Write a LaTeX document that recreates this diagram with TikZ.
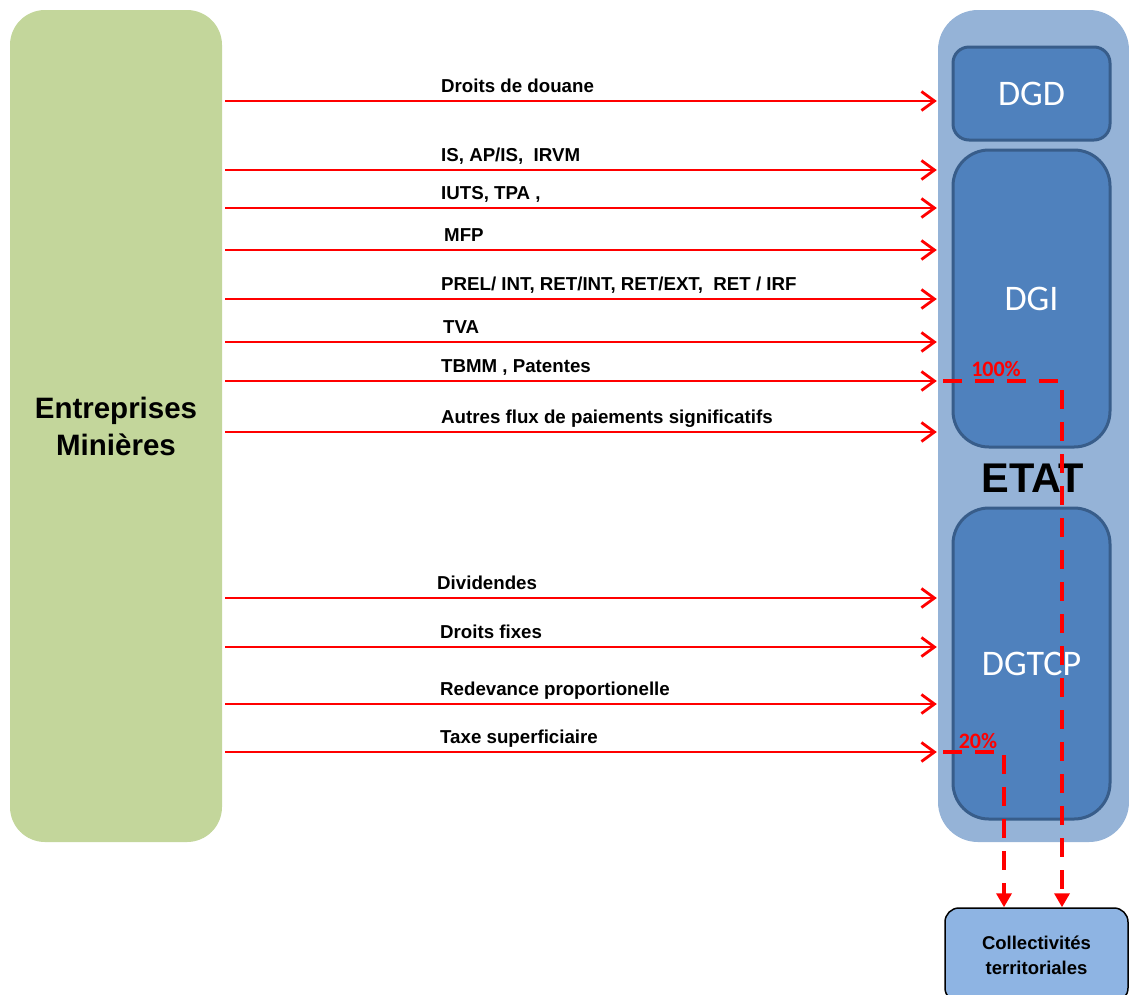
\documentclass[tikz,border=0pt]{standalone}
\usepackage{fontspec}
\setmainfont{Liberation Sans}
\newfontfamily\calib{Carlito}
\usetikzlibrary{arrows.meta}
\definecolor{entgreen}{HTML}{C3D69B}
\definecolor{etatblue}{HTML}{95B3D7}
\definecolor{dirblue}{HTML}{4F81BD}
\definecolor{dirborder}{HTML}{385D8A}
\definecolor{colblue}{HTML}{8EB4E3}
\definecolor{flowred}{HTML}{FF0000}
\tikzset{
  entbox/.style={fill=entgreen, rounded corners=35pt, inner sep=0pt},
  etatbox/.style={fill=etatblue, rounded corners=40pt, inner sep=0pt},
  dirbox/.style={fill=dirblue, draw=dirborder, line width=3pt, inner sep=0pt, text=white, font=\calib\fontsize{36}{40}\selectfont},
  colbox/.style={fill=colblue, draw=black, line width=1.5pt, rounded corners=14pt, inner sep=0pt, align=center, font=\bfseries\fontsize{18.5}{25}\selectfont},
  flow/.style={draw=flowred, line width=2.8pt, -{Straight Barb[length=13pt,width=19pt,line width=2.8pt]}, shorten <=3pt, shorten >=1pt},
  dflow/.style={draw=flowred, line width=4pt, dash pattern=on 19pt off 13pt, -{Triangle[length=14pt,width=15pt]}},
  flowlabel/.style={anchor=base west, inner sep=0pt, font=\bfseries\fontsize{18.7}{20}\selectfont},
  pct/.style={text=flowred, inner sep=0pt, font=\calib\bfseries\fontsize{22}{24}\selectfont}
}
\begin{document}
\begin{tikzpicture}[x=1pt,y=-1pt]
\useasboundingbox (0,0) rectangle (1129,994);
% main boxes
\node[entbox, minimum width=212pt, minimum height=832pt, align=center,
      font=\bfseries\fontsize{29.5}{37}\selectfont] (ent) at (116,426) {Entreprises\\Minières};
\node[etatbox, minimum width=191pt, minimum height=832pt] (etat) at (1033.5,426) {};
\node[dirbox, rounded corners=16pt, minimum width=157pt, minimum height=93pt] (dgd) at (1031.5,93.5) {DGD};
\node[dirbox, rounded corners=36pt, minimum width=157pt, minimum height=297pt] (dgi) at (1031.5,298.5) {DGI};
\node[dirbox, rounded corners=36pt, minimum width=157pt, minimum height=311pt] (dgtcp) at (1031.5,663.5) {DGTCP};
\node[inner sep=0pt, font=\bfseries\fontsize{41.5}{44}\selectfont] (etatlbl) at (1033,478) {ETAT};
\node[colbox, minimum width=183pt, minimum height=94pt] (coll) at (1036.5,955) {Collectivités\\territoriales};
% flows
\foreach \yy/\xx/\txt in {
  101/441/{Droits de douane},
  170/441/{IS, AP/IS,\ \ IRVM},
  208/441/{IUTS, TPA ,},
  250/444/{MFP},
  299/441/{PREL/ INT, RET/INT, RET/EXT,\ \ RET / IRF},
  342/443/{TVA},
  381/441/{TBMM , Patentes},
  432/441/{Autres flux de paiements significatifs},
  598/437/{Dividendes},
  647/440/{Droits fixes},
  704/440/{Redevance proportionelle},
  752/440/{Taxe superficiaire}}{
  \draw[flow] (ent.east |- 0,\yy) -- (etat.west |- 0,\yy);
  \node[flowlabel] at (\xx,\yy-9) {\txt};
}
% dashed shares to local authorities
\coordinate (d100) at (943,381);
\coordinate (d20) at (943,752);
\draw[dflow] (d100) -| ([xshift=25.5pt]coll.north);
\draw[dflow] (d20) -| ([xshift=-32.5pt]coll.north);
\node[pct] (p100) at (996,369) {100\%};
\node[pct] (p20) at (978,741) {20\%};
\end{tikzpicture}
\end{document}
